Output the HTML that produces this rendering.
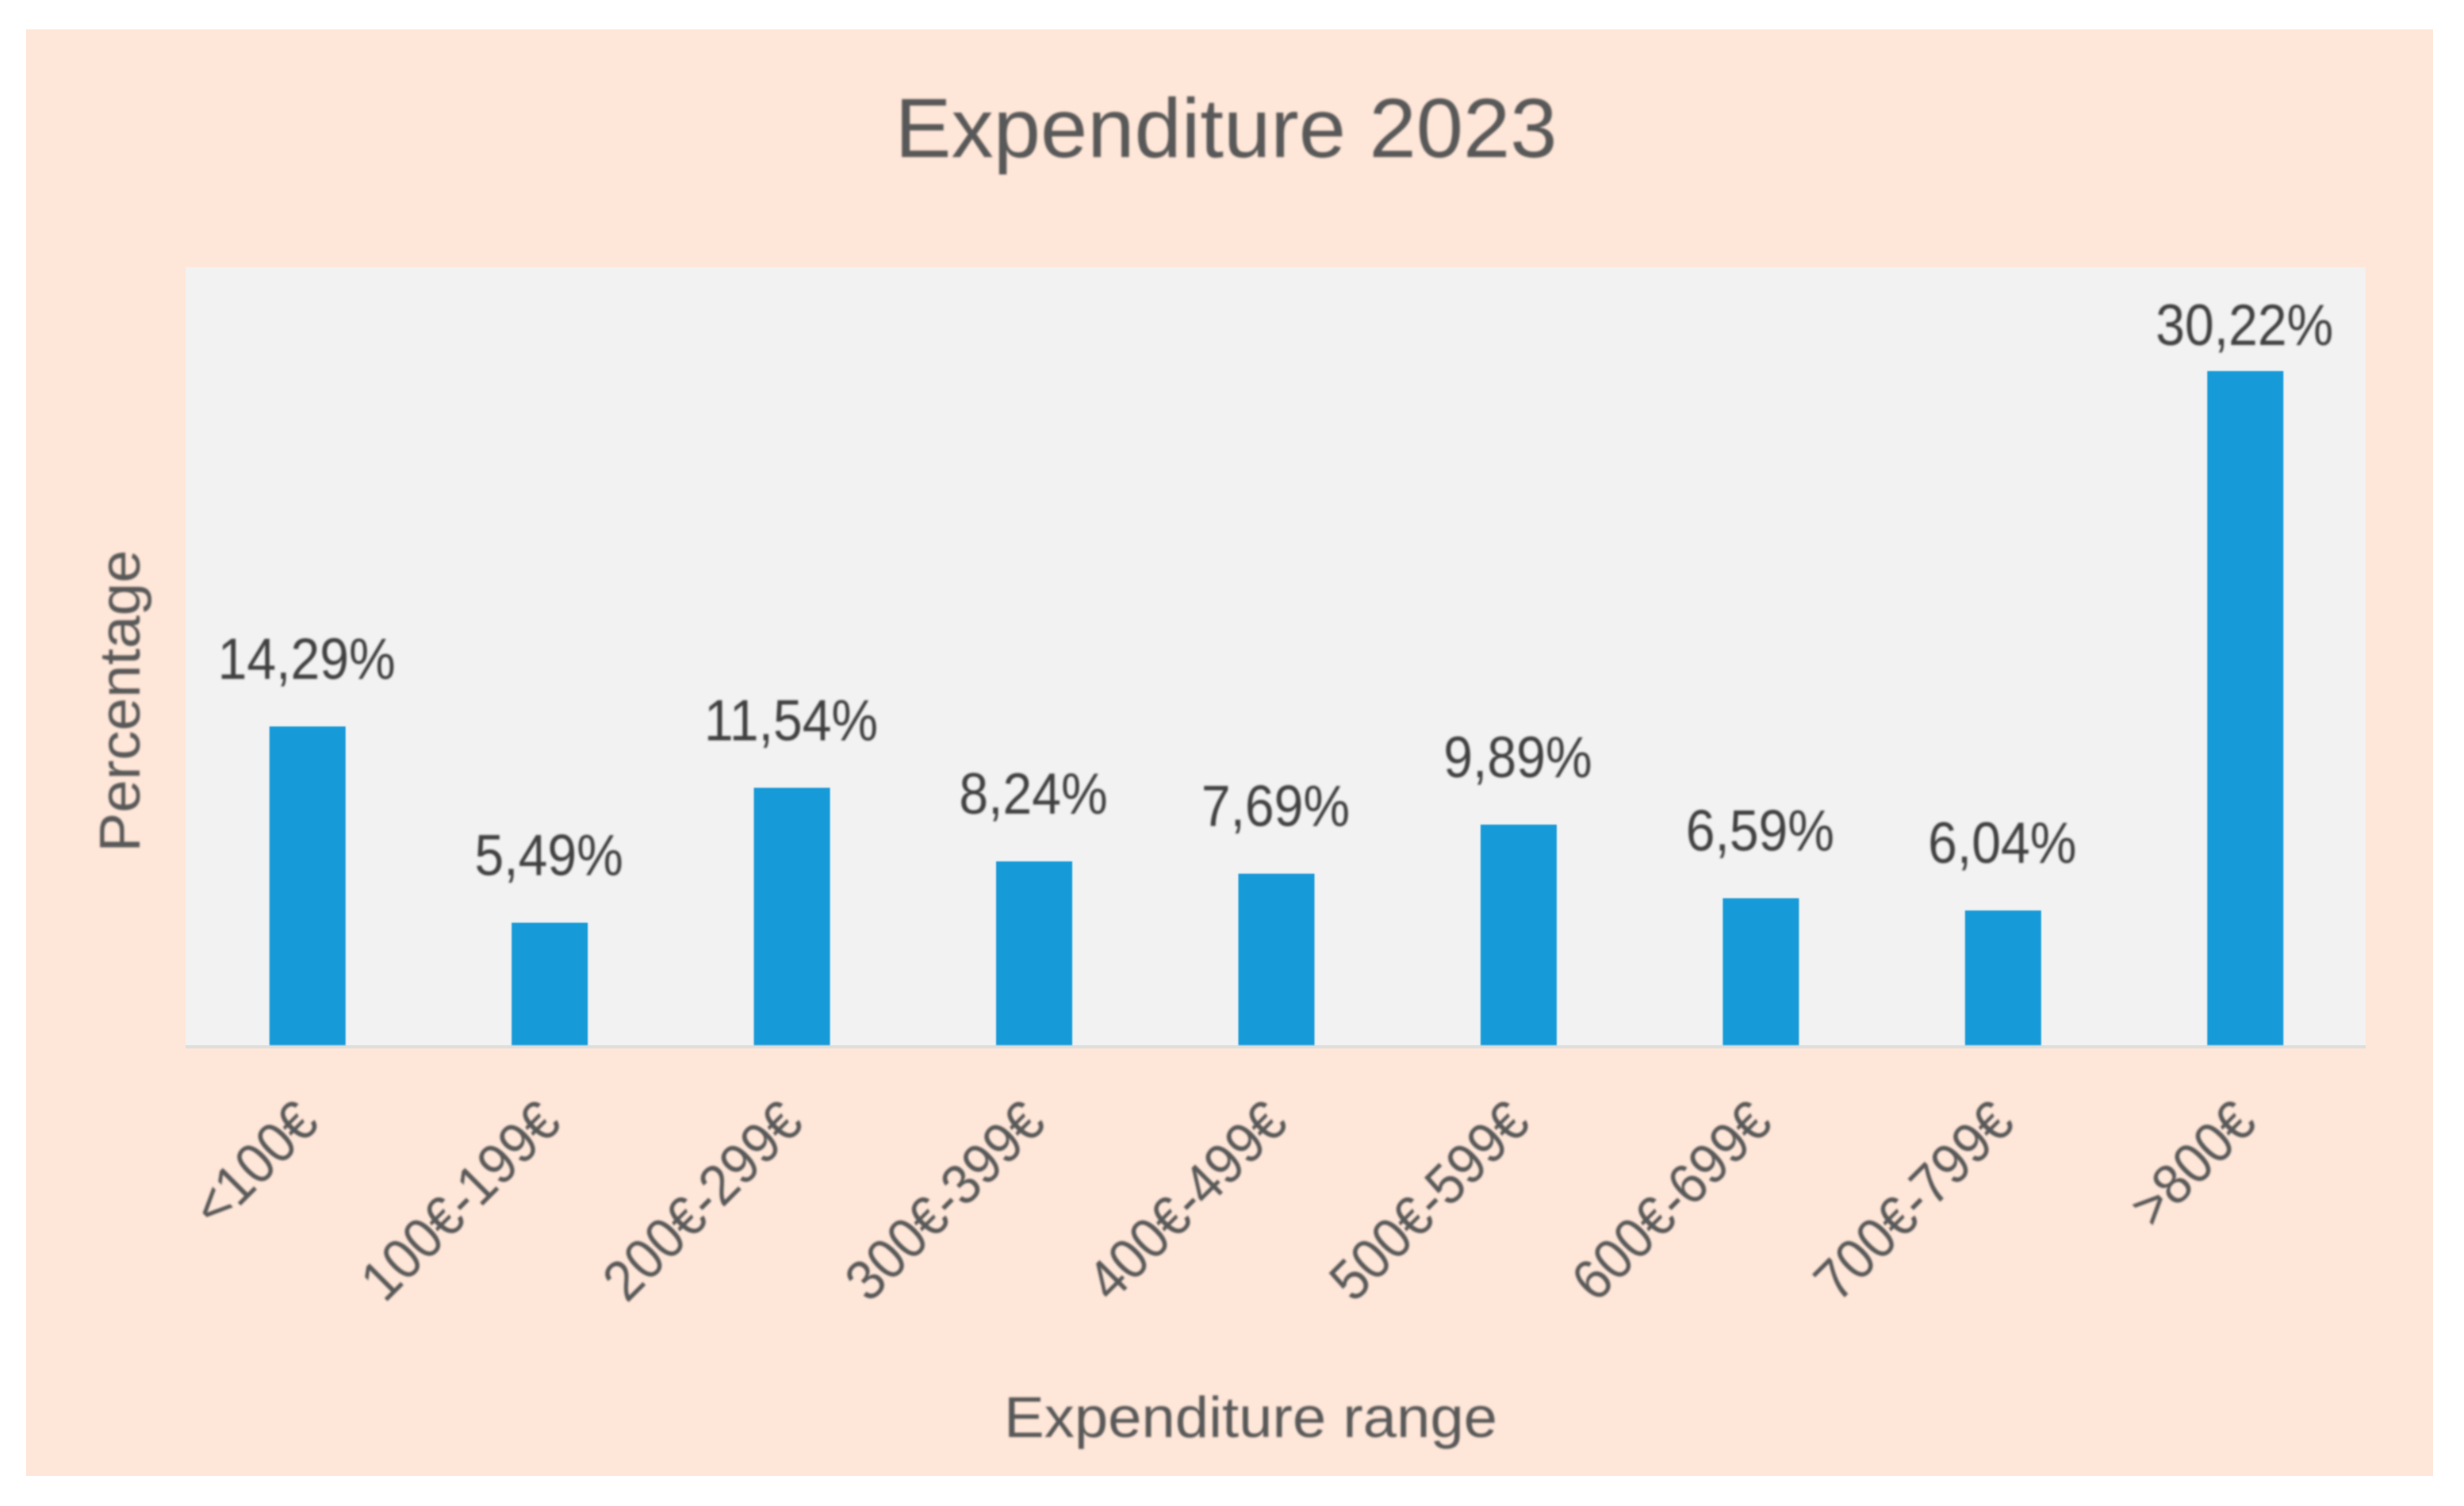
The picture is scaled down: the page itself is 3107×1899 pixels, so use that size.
<!DOCTYPE html>
<html lang="en">
<head>
<meta charset="utf-8">
<title>Expenditure 2023</title>
<style>
html,body{margin:0;padding:0;background:#fff;width:3107px;height:1899px;overflow:hidden}
svg{display:block}
text{font-family:"Liberation Sans",sans-serif}
</style>
</head>
<body>
<svg id="chart" xmlns="http://www.w3.org/2000/svg" width="3107" height="1899" viewBox="0 0 3107 1899">
  <defs>
    <filter id="soft" x="-10%" y="-10%" width="120%" height="120%"><feGaussianBlur stdDeviation="1.3"/></filter>
    <filter id="softEdge" x="-10%" y="-10%" width="120%" height="120%"><feGaussianBlur stdDeviation="0.8"/></filter>
  </defs>
  <rect x="33" y="37" width="3035" height="1824" fill="#FEE6D8"/>
  <rect x="234" y="337" width="2749" height="981" fill="#F2F2F2"/>
  <rect x="234" y="1318" width="2749" height="4" fill="#DEDEDC"/>
  <g id="bars" filter="url(#softEdge)"></g>
  <g id="labels" filter="url(#soft)">
    <text x="1546" y="198" font-size="106" text-anchor="middle" textLength="835" lengthAdjust="spacingAndGlyphs" fill="#595959">Expenditure 2023</text>
    <text x="1577" y="1812" font-size="72" text-anchor="middle" textLength="622" lengthAdjust="spacingAndGlyphs" fill="#595959">Expenditure range</text>
    <text transform="translate(176,884) rotate(-90)" font-size="72" text-anchor="middle" textLength="381" lengthAdjust="spacingAndGlyphs" fill="#595959">Percentage</text>
  </g>
</svg>
<script>
const categories = ["<100€","100€-199€","200€-299€","300€-399€","400€-499€","500€-599€","600€-699€","700€-799€",">800€"];
const percentages = [14.29,5.49,11.54,8.24,7.69,9.89,6.59,6.04,30.22];

const SVG_NS = "http://www.w3.org/2000/svg";
const plot = {left:235, right:2984, baseline:1318};
const pxPerPercent = 28.13;
const barWidth = 96;
const valueLabelMinBaseline = 435;
const bandWidth = (plot.right - plot.left) / categories.length;
const xScale = i => plot.left + bandWidth * (i + 0.5);
const yScale = v => plot.baseline - v * pxPerPercent;
const barsGroup = document.getElementById('bars');
const labelsGroup = document.getElementById('labels');

percentages.forEach((value, i) => {
  const cx = xScale(i);
  const top = yScale(value);

  const bar = document.createElementNS(SVG_NS, 'rect');
  
  
  bar.setAttribute('x', cx - barWidth / 2);
  bar.setAttribute('y', top);
  bar.setAttribute('width', barWidth);
  bar.setAttribute('height', plot.baseline - top);
  bar.setAttribute('fill', '#189AD8');
  barsGroup.appendChild(bar);

  const valueLabel = document.createElementNS(SVG_NS, 'text');
  
  
  valueLabel.setAttribute('x', cx - 1);
  valueLabel.setAttribute('y', Math.max(top - 60, valueLabelMinBaseline));
  valueLabel.setAttribute('font-size', '73');
  valueLabel.setAttribute('text-anchor', 'middle');
  valueLabel.setAttribute('fill', '#404040');
  valueLabel.textContent = value.toFixed(2).replace('.', ',') + '%';
  labelsGroup.appendChild(valueLabel);
  valueLabel.setAttribute('textLength', valueLabel.getComputedTextLength() * 0.905);
  valueLabel.setAttribute('lengthAdjust', 'spacingAndGlyphs');

  const tick = document.createElementNS(SVG_NS, 'text');
  
  
  tick.setAttribute('transform', 'translate(' + (cx + 17) + ',1419) rotate(-45)');
  tick.setAttribute('font-size', '72');
  tick.setAttribute('text-anchor', 'end');
  tick.setAttribute('fill', '#595959');
  tick.textContent = categories[i];
  labelsGroup.appendChild(tick);
  tick.setAttribute('textLength', tick.getComputedTextLength() * 0.925);
  tick.setAttribute('lengthAdjust', 'spacingAndGlyphs');
});
</script>
</body>
</html>
